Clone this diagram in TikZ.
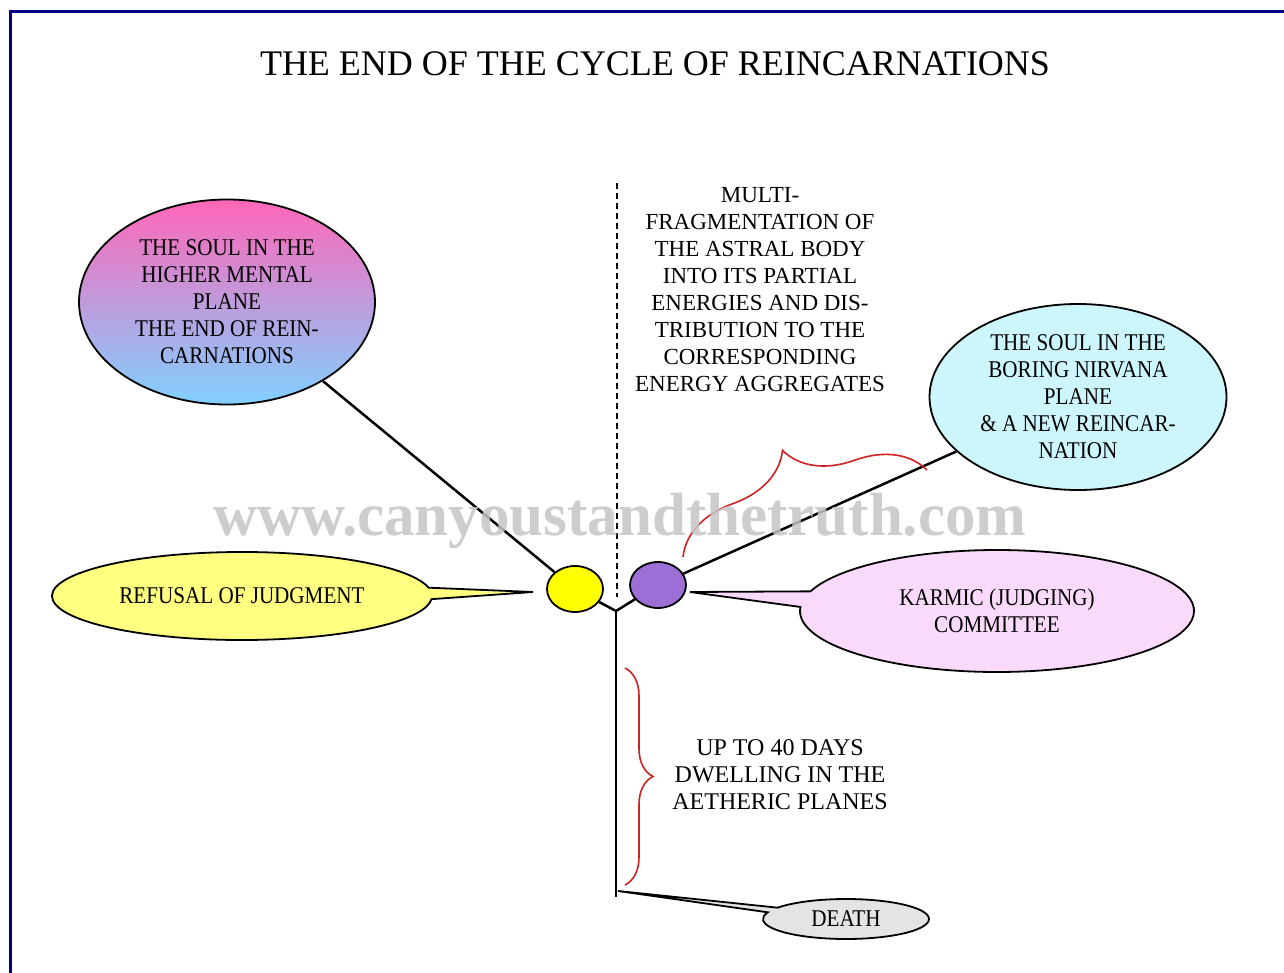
\documentclass[tikz,border=0pt]{standalone}
\usepackage{fontspec}
\setmainfont{Liberation Serif}
\newfontfamily\narrowrm[FakeStretch=0.88]{Liberation Serif}
\definecolor{mFrame}{HTML}{000088}
\definecolor{mPink}{HTML}{FF66B8}
\definecolor{mSky}{HTML}{80D0FF}
\definecolor{mLemon}{HTML}{FFFF00}
\definecolor{mPaleLemon}{HTML}{FFFF80}
\definecolor{mViolet}{HTML}{9C6ED6}
\definecolor{mCyan}{HTML}{CCF6FB}
\definecolor{mOrchid}{HTML}{FADAFA}
\definecolor{mAsh}{HTML}{E4E4E4}
\definecolor{mBrace}{HTML}{CC2222}
\definecolor{mMark}{HTML}{C4C4C4}
\usetikzlibrary{positioning, shapes.geometric, shapes.callouts, decorations.pathreplacing}

\begin{document}
\begin{tikzpicture}[x=1pt, y=-1pt,
  bubble/.style={ellipse, draw, line width=1.8pt, inner sep=0pt, align=center,
                 font=\narrowrm\fontsize{24}{27}\selectfont},
  talk/.style={ellipse callout, draw, line width=1.8pt, inner sep=0pt, align=center,
               font=\narrowrm\fontsize{24}{27}\selectfont},
  soul/.style={ellipse, draw, line width=1.8pt, minimum width=56pt,
               minimum height=46pt, inner sep=0pt},
  note/.style={align=center, font=\fontsize{23}{27}\selectfont},
  link/.style={line width=2.5pt},
  curly/.style={draw=mBrace, line width=1.6pt, decorate,
                decoration={brace, amplitude=#1}}]
\useasboundingbox (0,0) rectangle (1284,973);
\draw[mFrame, line width=3pt] (10,980) -- (10,12) -- (1290,12);

% title
\node[font=\fontsize{36}{40}\selectfont] (title) at (655,64)
  {THE END OF THE CYCLE OF REINCARNATIONS};

% the two souls
\node[bubble, minimum width=296pt, minimum height=205pt,
      top color=mPink, bottom color=mSky] (higher) at (227,302)
  {THE SOUL IN THE\\HIGHER MENTAL\\PLANE\\THE END OF REIN-\\CARNATIONS};
\node[bubble, fill=mCyan, minimum width=297pt, minimum height=186pt]
  (nirvana) at (1078,397)
  {THE SOUL IN THE\\BORING NIRVANA\\PLANE\\\& A NEW REINCAR-\\NATION};

\node[soul, fill=mLemon] (lemon) at (575,589) {};
\node[soul, fill=mViolet] (violet) at (658,585) {};

% split and stem
\coordinate (dashtop) at (617,183);
\coordinate (dashbot) at (617,597);
\coordinate (fork) at (616,611);
\coordinate (stem) at (616,897);
\draw[line width=2.2pt, dash pattern=on 6pt off 4pt] (dashtop) -- (dashbot);
\draw[link] (higher) -- (lemon);
\draw[link] (violet) -- (nirvana);
\draw[link] (lemon) -- (fork) -- (violet);
\draw[link] (fork) -- (stem);

% callouts
\coordinate (refusaltip) at (533,592);
\coordinate (karmatip) at (690,592);
\coordinate (deathtip) at (618,891);
\node[talk, fill=mPaleLemon, minimum width=380pt, minimum height=88pt,
      callout absolute pointer={(refusaltip)}] (refusal) at (242,596)
  {REFUSAL OF JUDGMENT};
\node[talk, fill=mOrchid, minimum width=394pt, minimum height=122pt,
      callout absolute pointer={(karmatip)}] (karma) at (997,611)
  {KARMIC (JUDGING)\\COMMITTEE};
\node[talk, fill=mAsh, minimum width=166pt, minimum height=40pt,
      callout absolute pointer={(deathtip)}] (death) at (846,919)
  {DEATH};

% notes and braces
\node[note] (split) at (760,290)
  {MULTI-\\FRAGMENTATION OF\\THE ASTRAL BODY\\INTO ITS PARTIAL\\ENERGIES AND DIS-\\TRIBUTION TO THE\\CORRESPONDING\\ENERGY AGGREGATES};
\node[note, font=\fontsize{24}{27}\selectfont] (days) at (780,775)
  {UP TO 40 DAYS\\DWELLING IN THE\\AETHERIC PLANES};
\coordinate (splitlo) at (683,557);
\coordinate (splithi) at (927,470);
\coordinate (daystop) at (625,668);
\coordinate (daysbot) at (625,885);
\draw[curly=67pt] (splitlo) -- (splithi);
\draw[curly=28pt] (daystop) -- (daysbot);

\node[text=mMark, opacity=0.85, font=\bfseries\fontsize{61}{62}\selectfont]
  (mark) at (620,521) {www.canyoustandthetruth.com};
\end{tikzpicture}
\end{document}
